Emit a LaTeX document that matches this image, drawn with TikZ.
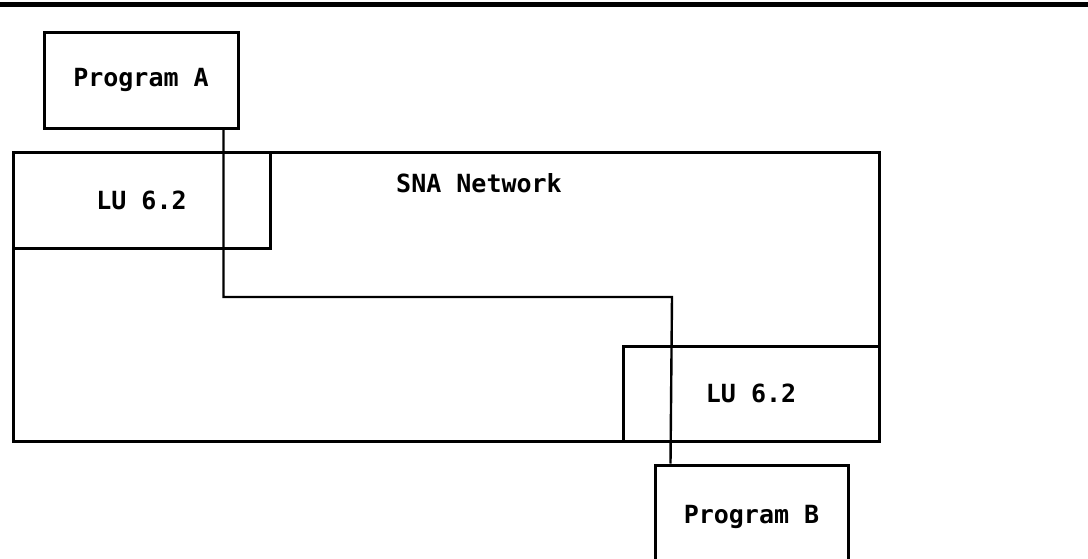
\documentclass[tikz,border=0pt]{standalone}
\usepackage{fontspec}
\newfontfamily\ibmfont{DejaVu Sans Mono}
\begin{document}
\begin{tikzpicture}[
  x=1pt, y=-1pt,
  box/.style={draw, rectangle, line width=3pt, inner sep=0pt, font=\ibmfont\bfseries\fontsize{25}{28}\selectfont},
  label/.style={inner sep=0pt, font=\ibmfont\bfseries\fontsize{25}{28}\selectfont},
  link/.style={line width=2.4pt},
  rule/.style={line width=5pt}
]
  \clip (0,0) rectangle (1088,558);
  \draw[rule] (0,4) -- (1088,4);
  \node[box, minimum width=194pt, minimum height=96pt] (pa) at (141,80) {Program A};
  \node[box, minimum width=866pt, minimum height=289pt] (sna) at (446,296.5) {};
  \node[label] (snalbl) at (479,183) {SNA Network};
  \node[box, minimum width=257pt, minimum height=96pt] (lua) at (141.5,200) {LU 6.2};
  \node[box, minimum width=256pt, minimum height=95pt] (lub) at (751,393.5) {LU 6.2};
  \node[box, minimum width=193pt, minimum height=104pt] (pb) at (751.5,517) {Program B};
  \coordinate (bend) at (672,297);
  \draw[link] ([xshift=-16pt]pa.south east) |- (bend) -- ([xshift=17pt]pb.north west);
\end{tikzpicture}
\end{document}
